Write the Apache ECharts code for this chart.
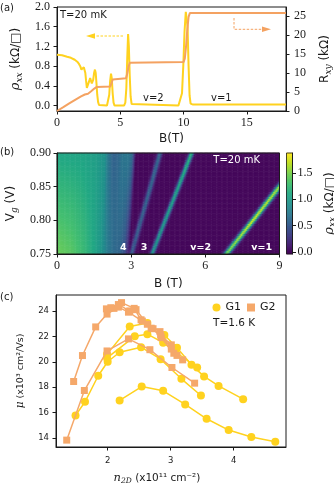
<!DOCTYPE html>
<html>
<head>
<meta charset="utf-8">
<title>QHE panels</title>
<script src="https://cdn.jsdelivr.net/npm/echarts@6.0.0/dist/echarts.min.js"></script>
<style>
  html, body { margin: 0; padding: 0; background: #fff; }
  #main { width: 334px; height: 486px; }
</style>
</head>
<body>
<div id="main"></div>
<script>
// ---- (a) rho_xx (left axis) and R_xy (right axis) against B, T = 20 mK
const rhoB   = [0, 0.4, 0.8, 1.1, 1.4, 1.6, 1.75, 1.85, 1.93, 2.0, 2.06, 2.12, 2.18, 2.24, 2.3, 2.36, 2.42, 2.48,
                2.55, 2.62, 2.68, 2.75, 2.8, 2.86, 2.93, 3.0, 3.06, 3.12, 3.18, 3.25, 3.32, 3.4, 3.95, 4.05, 4.13,
                4.2, 4.27, 4.33, 4.4, 4.47, 4.55, 5.3, 5.4, 5.48, 5.55, 5.62, 5.68, 5.75, 5.82, 5.9, 6.0, 9.6,
                9.75, 9.88, 9.98, 10.08, 10.18, 10.25, 10.32, 10.4, 10.48, 10.56, 10.65, 10.75, 10.85, 11.0, 18.1];
const rhoVal = [1.03, 1.02, 0.99, 0.97, 0.93, 0.89, 0.84, 0.79, 0.73, 0.71, 0.74, 0.78, 0.76, 0.66, 0.5, 0.36, 0.32, 0.37,
                0.5, 0.56, 0.53, 0.45, 0.44, 0.52, 0.66, 0.73, 0.66, 0.45, 0.22, 0.07, 0.01, 0.0, 0.0, 0.04, 0.22,
                0.5, 0.65, 0.55, 0.25, 0.06, 0.0, 0.0, 0.06, 0.35, 0.95, 1.45, 1.2, 0.6, 0.18, 0.03, 0.0, 0.0,
                0.04, 0.25, 0.8, 1.5, 1.9, 1.93, 1.6, 0.8, 0.2, 0.04, 0.06, 0.02, 0.04, 0.02, 0.02];
const rxyB   = [0, 0.5, 1.0, 1.5, 1.9, 2.2, 2.45, 2.7, 2.95, 3.15, 3.3, 4.2, 4.3, 4.4, 4.5, 5.45, 5.55, 5.65,
                5.75, 5.85, 10.0, 10.1, 10.2, 10.3, 10.4, 10.5, 18.1];
const rxyVal = [0, 1.0, 2.05, 3.05, 3.85, 4.35, 4.55, 5.2, 5.9, 6.35, 6.45, 6.45, 7.2, 8.3, 8.6, 8.6, 9.8, 11.6,
                12.7, 12.9, 12.9, 13.8, 17, 21.5, 24.8, 25.8, 25.8];
const aBTicks     = [0, 5, 10, 15];
const aRhoTicks   = [0, 0.4, 0.8, 1.2, 1.6, 2.0];
const aRxyTicks   = [0, 5, 10, 15, 20, 25];

const bgEdge      = [2.95, 3.2];           // where the low-field band ends, Vg = 0.75 / 0.90
const bgBottomB   = [0, 0.6, 1.1, 1.5, 1.8, 2.05, 2.3, 2.55, 2.72, 2.85, 2.95];
const bgBottomRho = [1.45, 1.38, 1.25, 1.1, 0.95, 0.75, 0.62, 0.58, 0.45, 0.2, 0.0];
const bgTopB      = [0, 1.0, 1.6, 1.95, 2.1, 2.3, 2.5, 2.65, 2.9, 3.05, 3.12, 3.2];
const bgTopRho    = [1.1, 1.08, 1.02, 0.92, 0.7, 0.55, 0.6, 0.7, 0.72, 0.62, 0.35, 0.0];
const lineVg      = [0.75, 0.80, 0.85, 0.90];
const lineA_B     = [3.02, 3.40, 3.79, 4.17];
const lineA_H     = [0.5, 0.55, 0.58, 0.6];
const lineB_B     = [3.85, 4.38, 4.92, 5.45];
const lineB_H     = [0.95, 1.0, 1.1, 1.2];
const lineC_B     = [6.85, 7.93, 9.0, 10.1];
const lineC_H     = [1.5, 1.75, 1.62, 1.5];
const lineW       = [0.07, 0.065, 0.09];
const bBTicks     = [0, 3, 6, 9];
const bVgTicks    = [0.75, 0.80, 0.85, 0.90];
const cbTicks     = [0, 0.5, 1.0, 1.5];

// ---- (c) mobility against density, T = 1.6 K
const g1a = [[2.19,16.96],[2.54,18.05],[2.88,17.72],[3.23,16.65],[3.57,15.52],[3.92,14.63],[4.28,14.08],[4.66,13.72]];
const g1b = [[1.49,15.78],[1.64,16.85],[1.85,18.9],[2.0,20.0],[2.19,20.75],[2.53,21.15],[2.84,20.2],[3.17,18.66],[3.48,17.35]];
const g1c = [[1.99,20.6],[2.35,22.77],[2.63,23.05],[2.9,22.1],[3.1,21.1],[3.33,19.76],[3.53,18.85],[3.76,18.1],[4.15,17.06]];
const g1d = [[1.99,20.3],[2.43,22.0],[2.63,22.17],[2.88,21.5],[3.07,20.8],[3.42,19.55]];
const g2a = [[1.35,13.84],[1.63,17.74],[1.99,20.85],[2.33,21.8],[2.67,20.95],[3.02,19.55],[3.38,18.32]];
const g2b = [[1.46,18.45],[1.6,20.49],[1.81,22.74],[1.99,23.75],[2.17,24.3],[2.33,23.9],[2.55,23.2],[2.72,22.6],[2.85,21.9],[3.05,20.67],[3.19,20.15]];
const g2c = [[1.98,24.16],[2.1,24.2],[2.22,24.65],[2.42,24.2],[2.53,23.3],[2.69,22.64],[2.84,22.1],[3.01,21.33],[3.1,20.5]];
const g2d = [[2.05,24.25],[2.17,24.5],[2.35,24.0],[2.45,24.1],[2.63,22.95],[2.83,22.37],[3.01,21.0]];
const cNTicks  = [2, 3, 4];
const cMuTicks = [14, 16, 18, 20, 22, 24];

const SANS = 'DejaVu Sans', SERIF = 'Liberation Serif', INK = '#1a1a1a';
const YEL = '#ffd21f', ORA = '#f4a261', SQ = '#f5a86a';
const viridis = ['#440154','#482475','#414487','#355f8d','#2a788e','#21918c','#22a884','#44bf70','#7ad151','#bddf26','#fde725'];

function lerp(a, b, t) { return a + (b - a) * t; }
function interp(xs, ys, x) {
  if (x <= xs[0]) return ys[0];
  for (let k = 1; k < xs.length; k++) {
    if (x <= xs[k]) return lerp(ys[k - 1], ys[k], (x - xs[k - 1]) / (xs[k] - xs[k - 1]));
  }
  return ys[ys.length - 1];
}

// heatmap table built from the read profiles / tracks
const NB = 180, NV = 60;
const hmBcat = [], hmVcat = [], hmData = [];
const tracks = [[lineA_B, lineA_H, lineW[0]], [lineB_B, lineB_H, lineW[1]], [lineC_B, lineC_H, lineW[2]]];
for (let i = 0; i < NB; i++) hmBcat.push(((i + 0.5) * 9 / NB).toFixed(3));
for (let j = 0; j < NV; j++) {
  const vg = 0.75 + (j + 0.5) * 0.15 / NV, t = (vg - 0.75) / 0.15;
  hmVcat.push(vg.toFixed(4));
  const edge = lerp(bgEdge[0], bgEdge[1], t);
  const pk = tracks.map(tr => [interp(lineVg, tr[0], vg), interp(lineVg, tr[1], vg), tr[2]]);
  for (let i = 0; i < NB; i++) {
    const b = (i + 0.5) * 9 / NB, u = b / edge;
    let v = lerp(interp(bgBottomB, bgBottomRho, u * bgEdge[0]), interp(bgTopB, bgTopRho, u * bgEdge[1]), t);
    pk.forEach(p => { const d = (b - p[0]) / p[2]; v += p[1] * Math.exp(-0.5 * d * d); });
    hmData.push([i, j, +v.toFixed(3)]);
  }
}
const CBN = 100, cbCat = [], cbData = [];
for (let j = 0; j < CBN; j++) {
  const v = -0.04 + (j + 0.5) * 1.92 / CBN;
  cbCat.push(v.toFixed(3));
  cbData.push([0, j, v]);
}

const line = { show: true, onZero: false, lineStyle: { color: INK, width: 1 } };
function ax(gi, min, max, ticks, fmt, fam, fs, margin, more) {
  return Object.assign({
    gridIndex: gi, type: 'value', min: min, max: max,
    axisLine: line,
    axisTick: { show: true, length: 3.5, customValues: ticks, lineStyle: { color: INK, width: 1 } },
    axisLabel: { customValues: ticks, formatter: fmt, fontFamily: fam, fontSize: fs, color: INK, margin: margin },
    splitLine: { show: false },
    nameLocation: 'middle'
  }, more || {});
}
const nameSans = (fs, rich) => ({ fontFamily: SANS, fontSize: fs, color: INK, lineHeight: fs + 4, rich: rich || {} });
const richSub = fs => ({
  it: { fontFamily: 'DejaVu Serif', fontStyle: 'italic', fontSize: fs + 1, color: INK },
  sub: { fontFamily: 'DejaVu Serif', fontStyle: 'italic', fontSize: fs - 3, color: INK, verticalAlign: 'bottom', lineHeight: fs - 3 }
});
function grid(l, t, w, h, more) {
  return Object.assign({ left: l, top: t, width: w, height: h, containLabel: false, outerBoundsMode: 'none' }, more || {});
}

function curve(name, data, sym, size, color) {
  return {
    type: 'line', name: name, xAxisIndex: 5, yAxisIndex: 6, data: data,
    symbol: sym, symbolSize: size, showSymbol: true,
    lineStyle: { color: color, width: 1.5 }, itemStyle: { color: color }, z: name === 'G2' ? 4 : 3
  };
}

const chart = echarts.init(document.getElementById('main'), null, { renderer: 'canvas' });
chart.setOption({
  animation: false,
  textStyle: { fontFamily: SANS },
  grid: [
    grid(57, 7, 229, 104, { show: true, borderColor: INK, borderWidth: 1 }),
    grid(57, 153, 222.5, 101),
    grid(57, 153, 222.5, 101, { show: true, borderColor: INK, borderWidth: 1, z: 10 }),
    grid(286.5, 153, 6, 101),
    grid(286.5, 153, 6, 101, { show: true, borderColor: INK, borderWidth: 0.8, z: 10 }),
    grid(56, 295, 230, 152, { show: true, borderColor: INK, borderWidth: 1 })
  ],
  xAxis: [
    ax(0, 0, 18.1, aBTicks, v => String(v), SERIF, 12, 6,
       { name: 'B(T)', nameGap: 20, nameTextStyle: nameSans(12) }),
    { gridIndex: 1, type: 'category', data: hmBcat, show: false },
    ax(2, 0, 9, bBTicks, v => String(v), SERIF, 12, 6,
       { name: 'B (T)', nameGap: 22, nameTextStyle: nameSans(12), z: 10 }),
    { gridIndex: 3, type: 'category', data: ['c'], show: false },
    { gridIndex: 4, type: 'value', min: 0, max: 1, show: false },
    ax(5, 1.18, 4.83, cNTicks, v => String(v), SANS, 8.5, 9,
       { name: '{it|n}{sub|2D} (x10¹¹ cm⁻²)', nameGap: 24,
         nameTextStyle: Object.assign(nameSans(10.5, richSub(10.5)), { padding: [0, 28, 0, 0] }) })
  ],
  yAxis: [
    ax(0, -0.11, 2.0, aRhoTicks, v => v.toFixed(1), SERIF, 12, 7,
       { name: '{it|ρ}{sub|xx} (kΩ/□)', nameGap: 29, nameRotate: 90, nameTextStyle: nameSans(12, richSub(12)) }),
    ax(0, 0, 27.4, aRxyTicks, v => String(v), SERIF, 12, 8,
       { position: 'right', name: 'R{sub|xy} (kΩ)', nameGap: 26, nameRotate: 90, nameTextStyle: nameSans(12, richSub(12)) }),
    { gridIndex: 1, type: 'category', data: hmVcat, show: false },
    ax(2, 0.75, 0.90, bVgTicks, v => v.toFixed(2), SERIF, 12, 6,
       { name: 'V{sub|g} (V)', nameGap: 33, nameRotate: 90, nameTextStyle: nameSans(12, richSub(12)), z: 10 }),
    { gridIndex: 3, type: 'category', data: cbCat, show: false },
    ax(4, -0.04, 1.88, cbTicks, v => v.toFixed(1), SERIF, 12, 5,
       { position: 'right', name: '{it|ρ}{sub|xx} (kΩ/□)', nameGap: 29, nameRotate: 90,
         nameTextStyle: nameSans(12, richSub(12)), z: 10 }),
    ax(5, 13.3, 25.25, cMuTicks, v => String(v), SANS, 8.5, 7,
       { name: '{it|μ} (x10³ cm²/Vs)', nameGap: 26, nameRotate: 90, nameTextStyle: nameSans(9.5, richSub(9.5)) })
  ],
  visualMap: [{
    type: 'continuous', show: false, min: -0.04, max: 1.88, dimension: 2,
    seriesIndex: [2, 3], inRange: { color: viridis }
  }],
  legend: {
    data: [{ name: 'G1', icon: 'circle' }, { name: 'G2', icon: 'rect' }],
    left: 212.5, top: 302, padding: 0, itemWidth: 8, itemHeight: 8, itemGap: 6,
    selectedMode: false, textStyle: { fontFamily: SANS, fontSize: 11, color: INK }
  },
  series: [
    { type: 'line', xAxisIndex: 0, yAxisIndex: 0, data: rhoB.map((b, k) => [b, rhoVal[k]]),
      symbol: 'none', lineStyle: { color: YEL, width: 2 }, z: 2 },
    { type: 'line', xAxisIndex: 0, yAxisIndex: 1, data: rxyB.map((b, k) => [b, rxyVal[k]]),
      symbol: 'none', lineStyle: { color: ORA, width: 2 }, z: 3 },
    { type: 'heatmap', xAxisIndex: 1, yAxisIndex: 2, data: hmData, progressive: 0,
      emphasis: { disabled: true }, itemStyle: { borderWidth: 0 } },
    { type: 'heatmap', xAxisIndex: 3, yAxisIndex: 4, data: cbData, progressive: 0,
      emphasis: { disabled: true } },
    curve('G1', g1a, 'circle', 8, YEL),
    curve('G1', g1b, 'circle', 8, YEL),
    curve('G1', g1c, 'circle', 8, YEL),
    curve('G1', g1d, 'circle', 8, YEL),
    curve('G2', g2a, 'rect', 7, SQ),
    curve('G2', g2b, 'rect', 7, SQ),
    curve('G2', g2c, 'rect', 7, SQ),
    curve('G2', g2d, 'rect', 7, SQ)
  ],
  graphic: [
    { type: 'text', x: 0, y: 8, style: { text: '(a)', fontFamily: SANS, fontSize: 10, fill: INK, verticalAlign: 'middle' } },
    { type: 'text', x: 0, y: 152.5, style: { text: '(b)', fontFamily: SANS, fontSize: 10, fill: INK, verticalAlign: 'middle' } },
    { type: 'text', x: 0, y: 297.5, style: { text: '(c)', fontFamily: SANS, fontSize: 10, fill: INK, verticalAlign: 'middle' } },
    { type: 'text', x: 60, y: 15, style: { text: 'T=20 mK', fontFamily: SANS, fontSize: 10, fill: INK, verticalAlign: 'middle' } },
    { type: 'text', x: 143, y: 98, style: { text: 'v=2', fontFamily: SANS, fontSize: 10, fill: INK, verticalAlign: 'middle' } },
    { type: 'text', x: 211, y: 98, style: { text: 'v=1', fontFamily: SANS, fontSize: 10, fill: INK, verticalAlign: 'middle' } },
    { type: 'polyline', shape: { points: [[123, 36], [93, 36]] }, style: { stroke: YEL, lineWidth: 1, lineDash: [2.5, 1.5] } },
    { type: 'polygon', shape: { points: [[86, 36], [95, 33.3], [95, 38.7]] }, style: { fill: YEL } },
    { type: 'polyline', shape: { points: [[234, 18], [234, 29.3], [264, 29.3]] }, style: { stroke: ORA, lineWidth: 1, lineDash: [2.5, 1.5] } },
    { type: 'polygon', shape: { points: [[271, 29.3], [262, 26.6], [262, 32]] }, style: { fill: ORA } },
    { type: 'text', x: 213.3, y: 160.8, z: 20, style: { text: 'T=20 mK', fontFamily: SANS, fontSize: 10, fill: '#fff', verticalAlign: 'middle' } },
    { type: 'text', x: 123.3, y: 247.2, z: 20, style: { text: '4', fontFamily: SANS, fontSize: 9.5, fontWeight: 'bold', fill: '#fff', align: 'center', verticalAlign: 'middle' } },
    { type: 'text', x: 144, y: 247.2, z: 20, style: { text: '3', fontFamily: SANS, fontSize: 9.5, fontWeight: 'bold', fill: '#fff', align: 'center', verticalAlign: 'middle' } },
    { type: 'text', x: 200.7, y: 247.2, z: 20, style: { text: 'v=2', fontFamily: SANS, fontSize: 9.5, fontWeight: 'bold', fill: '#fff', align: 'center', verticalAlign: 'middle' } },
    { type: 'text', x: 261.7, y: 247.2, z: 20, style: { text: 'v=1', fontFamily: SANS, fontSize: 9.5, fontWeight: 'bold', fill: '#fff', align: 'center', verticalAlign: 'middle' } },
    { type: 'text', x: 213, y: 323, style: { text: 'T=1.6 K', fontFamily: SANS, fontSize: 10.5, fill: INK, verticalAlign: 'middle' } }
  ]
});
</script>
</body>
</html>
